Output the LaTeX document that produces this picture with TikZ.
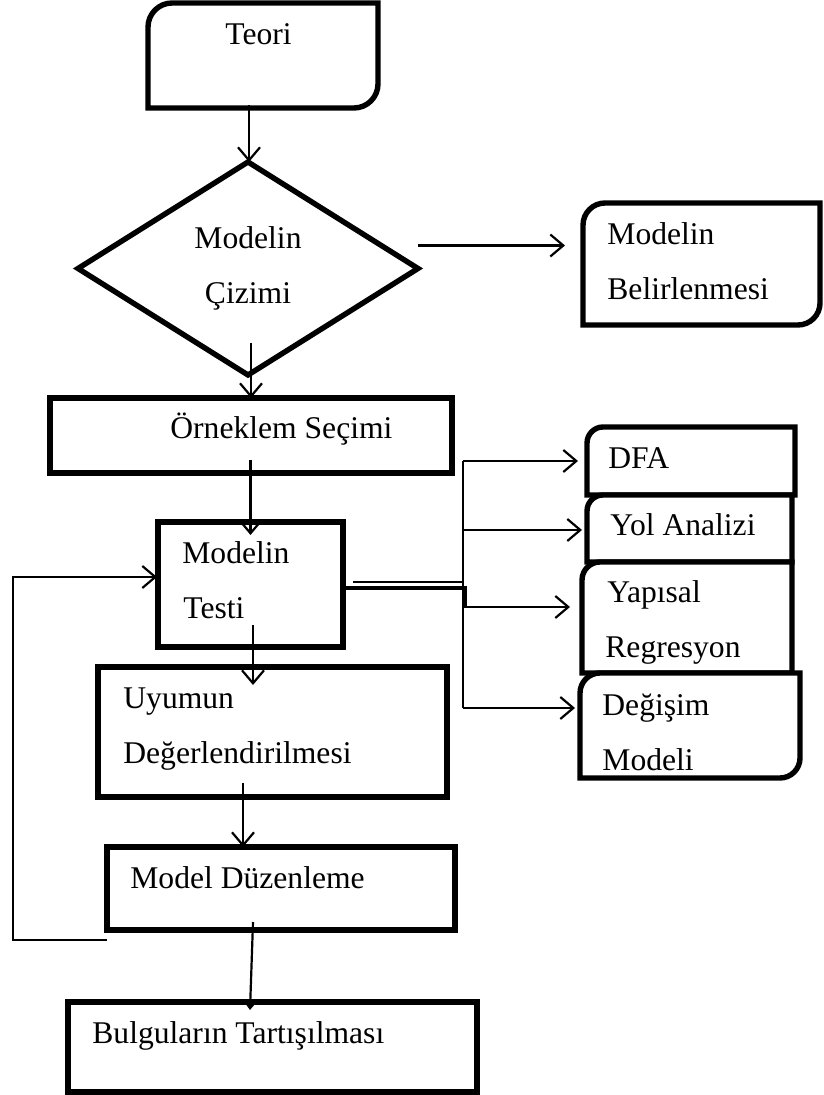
\documentclass[tikz,border=0pt]{standalone}
\usepackage{fontspec}
\setmainfont{Liberation Serif}
\usetikzlibrary{arrows.meta,calc,fit,shapes.geometric}
\newcommand\rrbox[3]{%
  \draw[boxline] (#1.south west)
    -- ($(#1.north west)+(0,#2)$)
    .. controls ($(#1.north west)+(0,0.45*#2)$) and ($(#1.north west)+(0.45*#2,0)$) .. ($(#1.north west)+(#2,0)$)
    -- (#1.north east)
    -- ($(#1.south east)+(0,-#3)$)
    .. controls ($(#1.south east)+(0,-0.45*#3)$) and ($(#1.south east)+(-0.45*#3,0)$) .. ($(#1.south east)+(-#3,0)$)
    -- cycle;}
\newcommand\sqbox[1]{\draw[boxline] (#1.north west) rectangle (#1.south east);}
\begin{document}
\begin{tikzpicture}[x=0.5pt,y=-0.5pt,
  frame/.style={inner sep=0pt, outer sep=0pt, draw=none},
  boxline/.style={draw=black, fill=white, line width=2.7pt},
  conn/.style={draw=black, line width=1.1pt},
  arr/.style={conn, -{Straight Barb[length=6.5pt,width=11pt,line width=1.1pt]}},
  farr/.style={conn, -{Triangle[length=5pt,width=7.5pt]}},
  txt/.style={anchor=base west, inner sep=0pt, font=\fontsize{15.8pt}{19pt}\selectfont},
  ctxt/.style={txt, anchor=base},
]
\useasboundingbox (0,0) rectangle (823,1095);

% frames
\node[frame, fit={(148,3) (378,108)}] (teori) {};
\node[diamond, draw=black, line width=2.7pt, minimum width=170pt, minimum height=106.5pt, inner sep=0pt, outer sep=0pt] (dia) at (248,268.5) {};
\node[frame, fit={(583,203) (820,325)}] (belir) {};
\node[frame, fit={(50,398) (452,473)}] (ornek) {};
\node[frame, fit={(158,522) (343,647)}] (test) {};
\node[frame, fit={(98,667) (447,797)}] (uyum) {};
\node[frame, fit={(107,847) (455,930)}] (duzen) {};
\node[frame, fit={(68,1002) (477,1092)}] (bulgu) {};
\node[frame, fit={(587,427) (795,495)}] (dfa) {};
\node[frame, fit={(587,495) (792,562)}] (yol) {};
\node[frame, fit={(582,562) (792,673)}] (yap) {};
\node[frame, fit={(580,673) (800,778)}] (deg) {};

% outlines
\rrbox{teori}{24}{24}
\rrbox{belir}{22}{22}
\sqbox{ornek}
\sqbox{test}
\sqbox{uyum}
\sqbox{duzen}
\sqbox{bulgu}
\rrbox{dfa}{16}{0}
\rrbox{yol}{16}{0}
\rrbox{yap}{18}{0}
\rrbox{deg}{20}{20}

% texts
\node[txt] (tteori) at (225,45) {Teori};
\node[ctxt] (tdia1) at (248,249) {Modelin};
\node[ctxt] (tdia2) at (248,304) {Çizimi};
\node[txt] (tbel1) at (607,245) {Modelin};
\node[txt] (tbel2) at (607,300) {Belirlenmesi};
\node[txt] (torn) at (170,439) {Örneklem Seçimi};
\node[txt] (ttest1) at (182,563) {Modelin};
\node[txt] (ttest2) at (183,618) {Testi};
\node[txt] (tuy1) at (123,708) {Uyumun};
\node[txt] (tuy2) at (123,763) {Değerlendirilmesi};
\node[txt] (tduz) at (130,888) {Model Düzenleme};
\node[txt] (tbul) at (92,1043) {Bulguların Tartışılması};
\node[txt] (tdfa) at (608,468) {DFA};
\node[txt] (tyol) at (610,535) {Yol Analizi};
\node[txt] (tyap1) at (607,602) {Yapısal};
\node[txt] (tyap2) at (605,657) {Regresyon};
\node[txt] (tdeg1) at (602,715) {Değişim};
\node[txt] (tdeg2) at (602,770) {Modeli};

% connectors
\draw[arr] ($(teori.south -| dia.north)+(1,-3)$) -- ($(dia.north)+(1,0)$);
\draw[arr] ($(dia.east)+(0,-23)$) coordinate (a1) -- ($(belir.west |- a1)+(-18,0)$);
\draw[arr] ($(dia.south)+(3,-32)$) coordinate (a2) -- (ornek.north -| a2);
\draw[arr] ($(ornek.south -| test.north)+(0,-13)$) -- ($(test.north)+(0,13)$);
\draw[arr] ($(test.south)+(2.5,-22)$) coordinate (a4) -- ($(uyum.north -| a4)+(0,18)$);
\draw[arr] ($(uyum.south)+(-29.5,-14)$) coordinate (a5) -- (duzen.north -| a5);
\draw[farr] ($(duzen.south)+(-28,-8)$) -- ($(bulgu.north)+(-22.5,8)$);
\draw[arr] ($(duzen.south west)+(0,10)$) -- ++(-94,0) |- ($(test.west)+(-1,-7.5)$);

% branch to the right
\draw[conn, line width=2pt] ($(test.east)+(0,3.5)$) -- ++(122,0) coordinate (j1) -- ++(0,19);
\draw[conn] ($(test.east)+(10,-2.5)$) -- ++(110,0) coordinate (bus);
\draw[conn] (bus |- dfa.west) -- ($(bus |- deg.west)+(0,-17.5)$);
\draw[arr] (bus |- dfa.west) -- ($(dfa.west)+(-9,0)$);
\draw[arr] ($(bus |- yol.west)+(0,1.5)$) -- ($(yol.west)+(-5,1.5)$);
\draw[arr] ($(bus |- yap.west)+(0,-10.5)$) -- ($(yap.west)+(-12,-10.5)$);
\draw[arr] ($(bus |- deg.west)+(0,-17.5)$) -- ($(deg.west)+(-5,-17.5)$);
\end{tikzpicture}
\end{document}
